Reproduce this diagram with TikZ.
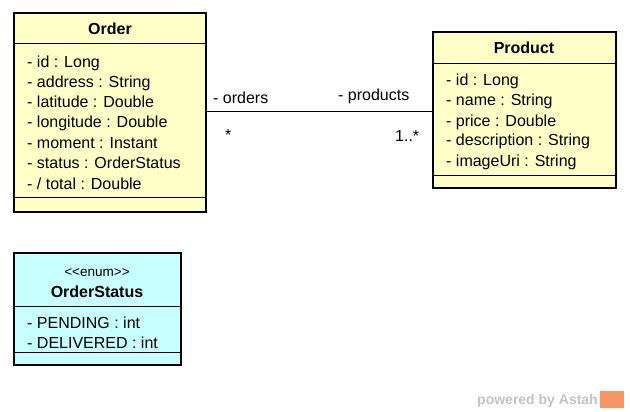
\documentclass[tikz,border=0pt]{standalone}
\usepackage{fontspec}
\setmainfont{Liberation Sans}
\definecolor{clsyellow}{RGB}{255,255,200}
\definecolor{enumcyan}{RGB}{200,255,255}
\definecolor{wmgray}{RGB}{195,195,195}
\definecolor{wmorange}{RGB}{245,150,100}
\begin{document}
\begin{tikzpicture}[x=1pt,y=-1pt,
  umlbox/.style={draw=black, line width=2.6pt, inner sep=0pt, outer sep=0pt, anchor=north west},
  sepline/.style={draw=black, line width=0.8pt},
  attr/.style={anchor=base west, inner sep=0pt, font=\fontsize{16}{16}\selectfont},
  title/.style={anchor=base, inner sep=0pt, font=\bfseries\fontsize{16}{16}\selectfont},
  stereo/.style={anchor=base, inner sep=0pt, font=\fontsize{13.5}{13.5}\selectfont},
  assoc/.style={draw=black, line width=0.8pt},
  lbl/.style={anchor=base west, inner sep=0pt, font=\fontsize{16}{16}\selectfont}]
\useasboundingbox (0,0) rectangle (630,412);
\fill[white] (0,0) rectangle (630,412);

% Order
\node[umlbox, fill=clsyellow, minimum width=192pt, minimum height=199pt] (order) at (14,13) {};
\draw[sepline] (order.west |- 0,43) -- (order.east |- 0,43);
\draw[sepline] (order.west |- 0,197) -- (order.east |- 0,197);
\node[title] (ordert) at (110,35) {Order};
\node[attr] (o1) at (27,68) {- id : Long};
\node[attr] (o2) at (27,88) {- address : String};
\node[attr] (o3) at (27,108) {- latitude : Double};
\node[attr] (o4) at (27,128) {- longitude : Double};
\node[attr] (o5) at (27,148) {- moment : Instant};
\node[attr] (o6) at (27,168) {- status : OrderStatus};
\node[attr] (o7) at (27,189) {- / total : Double};

% Product
\node[umlbox, fill=clsyellow, minimum width=183pt, minimum height=156pt] (product) at (433,32) {};
\draw[sepline] (product.west |- 0,63) -- (product.east |- 0,63);
\draw[sepline] (product.west |- 0,175) -- (product.east |- 0,175);
\node[title] (productt) at (524,54) {Product};
\node[attr] (p1) at (446,86) {- id : Long};
\node[attr] (p2) at (446,106) {- name : String};
\node[attr] (p3) at (446,126) {- price : Double};
\node[attr] (p4) at (446,146) {- description : String};
\node[attr] (p5) at (446,166) {- imageUri : String};

% OrderStatus
\node[umlbox, fill=enumcyan, minimum width=167pt, minimum height=112pt] (status) at (14,253) {};
\draw[sepline] (status.west |- 0,306) -- (status.east |- 0,306);
\draw[sepline] (status.west |- 0,352) -- (status.east |- 0,352);
\node[stereo] (statuss) at (97,276) {{<}{<}enum{>}{>}};
\node[title] (statust) at (97,297) {OrderStatus};
\node[attr] (s1) at (27,328) {- PENDING : int};
\node[attr] (s2) at (27,348) {- DELIVERED : int};

% association
\coordinate (aL) at (207,111);
\coordinate (aR) at (432,111);
\draw[assoc] (order.east |- aL) -- (product.west |- aR);
\node[lbl] (lorders) at (213,104) {- orders};
\node[lbl] (lstar) at (225,140) {*};
\node[lbl] (lproducts) at (338,100) {- products};
\node[lbl] (lmult) at (395,142) {1..*};

% watermark
\node[anchor=base east, inner sep=0pt, text=wmgray, font=\bfseries\fontsize{14}{14}\selectfont] (wm) at (598,404) {powered by Astah};
\node[anchor=west, inner sep=0pt, fill=wmorange, minimum width=24pt, minimum height=17pt] (logo) at (600,399) {};
\end{tikzpicture}
\end{document}
